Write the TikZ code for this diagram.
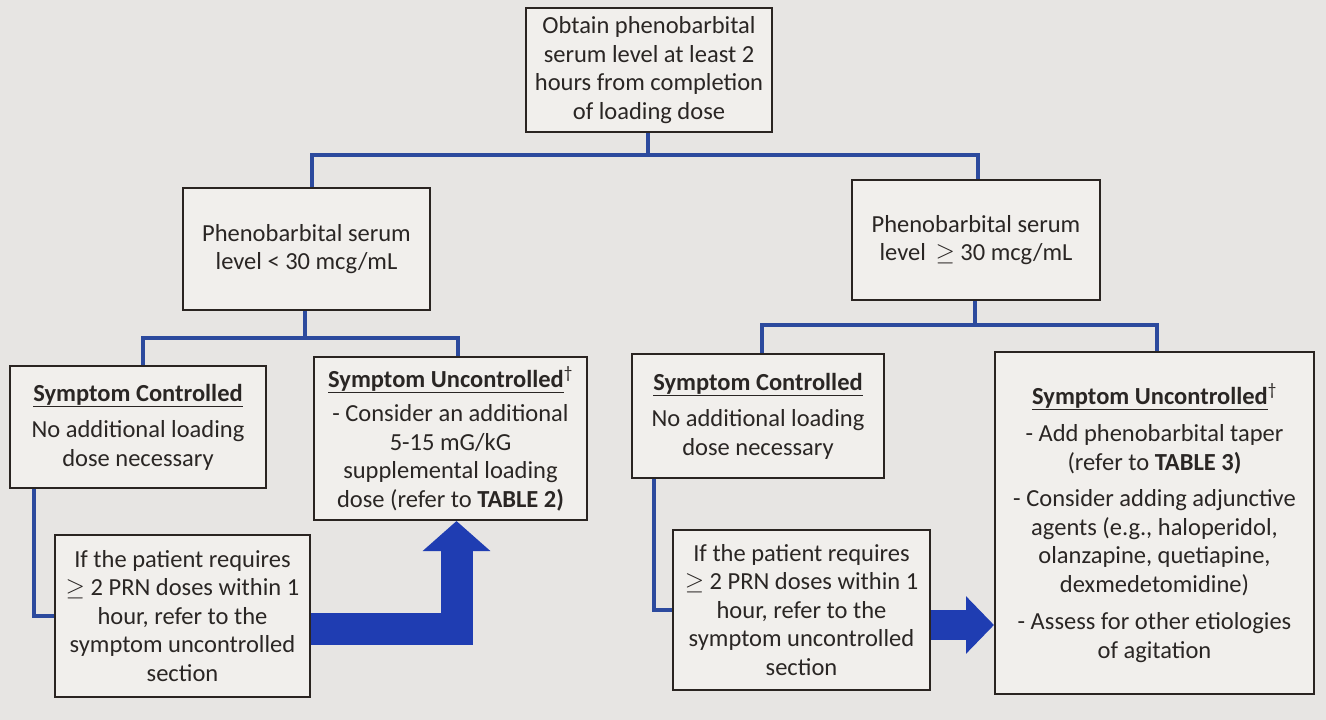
\documentclass[tikz,border=0pt]{standalone}
\usepackage{fontspec}
\setmainfont{Carlito}
\usetikzlibrary{arrows.meta}
\definecolor{bgc}{HTML}{E7E5E3}
\definecolor{boxfill}{HTML}{F1EFEC}
\definecolor{boxc}{HTML}{2A2421}
\definecolor{txt}{HTML}{2A2624}
\definecolor{connc}{HTML}{2C4A9E}
\definecolor{arrc}{HTML}{1F3DB2}
\begin{document}
\begin{tikzpicture}[x=1pt,y=-1pt,
  box/.style={draw=boxc, line width=2pt, fill=boxfill, align=center, inner sep=0pt,
    font=\fontsize{24.5}{28.5}\selectfont, text=txt},
  conn/.style={draw=connc, line width=3.5pt, line join=miter},
  bigarrow/.style={draw=arrc, line width=#1, line join=miter, line cap=butt},
]
\fill[bgc] (0,0) rectangle (1326,720);
\useasboundingbox (0,0) rectangle (1326,720);

\node[box, minimum width=246pt, minimum height=124pt] (top) at (649,70)
  {Obtain phenobarbital\\serum level at least 2\\hours from completion\\of loading dose};
\node[box, minimum width=247pt, minimum height=122pt] (lvll) at (306.5,249)
  {Phenobarbital serum\\level < 30 mcg/mL};
\node[box, minimum width=248pt, minimum height=120pt] (lvlr) at (976,240)
  {Phenobarbital serum\\level \,\ensuremath{\geq} 30 mcg/mL};
\node[box, minimum width=256pt, minimum height=122pt] (scl) at (138,427)
  {\underline{\textbf{Symptom Controlled}}\\[8pt]No additional loading\\dose necessary};
\node[box, minimum width=273pt, minimum height=163pt] (sul) at (450.5,438.5)
  {\underline{\textbf{Symptom Uncontrolled}}\textsuperscript{†}\\[6pt]- Consider an additional\\5-15 mG/kG\\supplemental loading\\dose (refer to \textbf{TABLE 2)}};
\node[box, minimum width=255pt, minimum height=162pt] (prnl) at (182.5,616)
  {If the patient requires\\\ensuremath{\geq} 2 PRN doses within 1\\hour, refer to the\\symptom uncontrolled\\section};
\node[box, minimum width=252pt, minimum height=124pt] (scr) at (758,416)
  {\underline{\textbf{Symptom Controlled}}\\[8pt]No additional loading\\dose necessary};
\node[box, minimum width=319pt, minimum height=342pt] (sur) at (1154.5,523)
  {\underline{\textbf{Symptom Uncontrolled}}\textsuperscript{†}\\[9pt]- Add phenobarbital taper\\(refer to \textbf{TABLE 3)}\\[8pt]- Consider adding adjunctive\\agents (e.g., haloperidol,\\olanzapine, quetiapine,\\dexmedetomidine)\\[9pt]- Assess for other etiologies\\of agitation};
\node[box, minimum width=257pt, minimum height=160pt] (prnr) at (801.5,610)
  {If the patient requires\\\ensuremath{\geq} 2 PRN doses within 1\\hour, refer to the\\symptom uncontrolled\\section};

% tree connectors
\coordinate (j1) at (648,155);
\draw[conn] (top.south -| j1) -- (j1);
\draw[conn] ([xshift=5.5pt]lvll.north) |- (j1) -| ([xshift=2pt]lvlr.north);
\coordinate (j2) at (305,338);
\draw[conn] (lvll.south -| j2) -- (j2);
\draw[conn] ([xshift=5pt]scl.north) |- (j2) -| ([xshift=7.5pt]sul.north);
\coordinate (j3) at (975,325);
\draw[conn] (lvlr.south -| j3) -- (j3);
\draw[conn] ([xshift=4pt]scr.north) |- (j3) -| ([xshift=2.5pt]sur.north);
\draw[conn] ([xshift=25pt]scl.south west) |- (prnl.west);
\draw[conn] ([xshift=23pt]scr.south west) |- (prnr.west);

% big arrows
\draw[bigarrow=32pt, -{Triangle[length=30pt,width=66pt]}]
  ([yshift=-12.5pt]prnl.east) -| ([xshift=6pt]sul.south);
\draw[bigarrow=30pt, -{Triangle[length=28pt,width=56pt]}]
  ([yshift=-15pt]prnr.east) -- ([yshift=-15pt]prnr.east -| sur.west);
\end{tikzpicture}
\end{document}
